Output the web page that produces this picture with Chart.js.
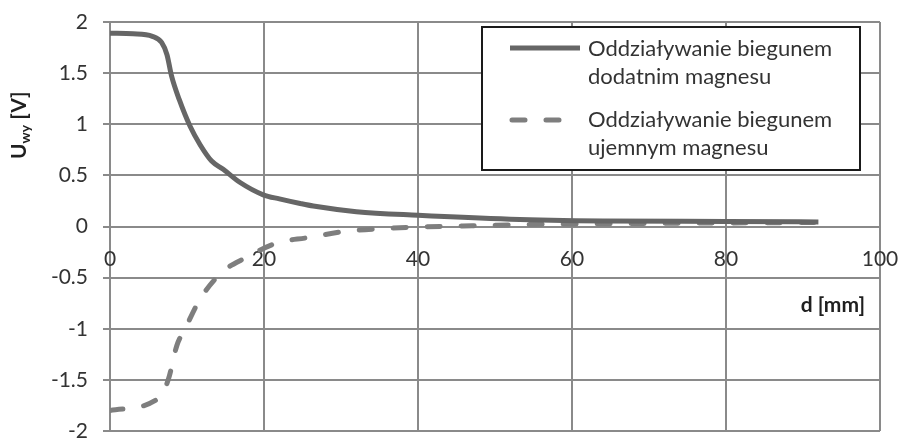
<!DOCTYPE html>
<html>
<head>
<meta charset="utf-8">
<script src="https://cdn.jsdelivr.net/npm/chart.js@4/dist/chart.umd.min.js"></script>
<style>
  html, body { margin: 0; padding: 0; background: #ffffff; }
  #wrap { width: 902px; height: 439px; }
</style>
</head>
<body>
<div id="wrap"><canvas id="c" width="902" height="439"></canvas></div>
<script>
// Output voltage vs. distance from the magnet pole
const distPositive = [0, 3, 5.5, 6.7, 7.4, 8, 9, 10.4, 11.7, 13.2, 14.7, 16.9, 19.9, 22, 24.7, 26.4, 32, 40, 52, 64, 80, 92];
const voltPositive = [1.89, 1.885, 1.86, 1.8, 1.68, 1.47, 1.24, 0.98, 0.8, 0.64, 0.56, 0.43, 0.31, 0.27, 0.225, 0.2, 0.145, 0.11, 0.072, 0.055, 0.05, 0.045];

const distNegative = [0, 6.5, 7.6, 8.7, 9.75, 11.7, 14.5, 17.5, 21.7, 25.6, 30.8, 35.5, 40, 47, 55, 70, 92];
const voltNegative = [-1.8, -1.67, -1.49, -1.16, -1.0, -0.71, -0.45, -0.31, -0.16, -0.11, -0.045, -0.02, -0.005, 0.008, 0.02, 0.03, 0.04];

const xTicks = [0, 20, 40, 60, 80, 100];
const yTicks = [-2, -1.5, -1, -0.5, 0, 0.5, 1, 1.5, 2];

const seriesLabels = [
  ["Oddziaływanie biegunem", "dodatnim magnesu"],
  ["Oddziaływanie biegunem", "ujemnym magnesu"]
];
const xTitle = "d [mm]";
const yTitleMain = "U";
const yTitleSub = "wy";
const yTitleUnit = " [V]";

const FONT = "Lato, 'Open Sans', sans-serif";
const TEXT = "#333333";
const GRID = "#8a8a8a";

const toPoints = (xs, ys) => xs.map((x, i) => ({ x: x, y: ys[i] }));

// Legend box, axis titles
const decor = {
  id: 'decor',
  afterDraw(chart) {
    const ctx = chart.ctx;
    const xs = chart.scales.x, ys = chart.scales.y;
    ctx.save();

    // legend
    const bx = 482, by = 27, bw = 378, bh = 143;
    ctx.fillStyle = '#ffffff';
    ctx.fillRect(bx, by, bw, bh);
    ctx.strokeStyle = '#1a1a1a';
    ctx.lineWidth = 2;
    ctx.strokeRect(bx, by, bw, bh);

    const rows = [{ lineY: 48, base: 56 }, { lineY: 120, base: 127 }];
    ctx.font = '22px ' + FONT;
    ctx.textBaseline = 'alphabetic';
    ctx.textAlign = 'left';
    rows.forEach((r, i) => {
      const ds = chart.data.datasets[i];
      ctx.save();
      ctx.strokeStyle = ds.borderColor;
      ctx.lineWidth = ds.borderWidth;
      ctx.lineCap = ds.borderCapStyle || 'butt';
      ctx.setLineDash(ds.borderDash || []);
      ctx.beginPath();
      ctx.moveTo(ds.borderDash ? 512 : 510, r.lineY);
      ctx.lineTo(580, r.lineY);
      ctx.stroke();
      ctx.restore();
      ctx.fillStyle = TEXT;
      seriesLabels[i].forEach((t, k) => ctx.fillText(t, 588, r.base + k * 28));
    });

    // x-axis title
    ctx.fillStyle = '#1f1f1f';
    ctx.font = 'bold 21px ' + FONT;
    ctx.textAlign = 'right';
    ctx.fillText(xTitle, xs.getPixelForValue(100) - 15, ys.getPixelForValue(-0.84));

    // y-axis title (rotated, with subscript)
    ctx.translate(26, 159);
    ctx.rotate(-Math.PI / 2);
    ctx.textAlign = 'left';
    ctx.font = 'bold 21px ' + FONT;
    ctx.fillText(yTitleMain, 0, 0);
    let off = ctx.measureText(yTitleMain).width;
    ctx.font = 'bold 14px ' + FONT;
    ctx.fillText(yTitleSub, off, 4);
    off += ctx.measureText(yTitleSub).width;
    ctx.font = 'bold 21px ' + FONT;
    ctx.fillText(yTitleUnit, off, 0);
    ctx.restore();
  }
};

new Chart(document.getElementById('c'), {
  type: 'line',
  data: {
    datasets: [
      {
        label: seriesLabels[0].join(' '),
        data: toPoints(distPositive, voltPositive),
        borderColor: '#666666',
        borderWidth: 5,
        pointRadius: 0,
        fill: false,
        cubicInterpolationMode: 'monotone'
      },
      {
        label: seriesLabels[1].join(' '),
        data: toPoints(distNegative, voltNegative),
        borderColor: '#7e7e7e',
        borderWidth: 5,
        borderDash: [13, 21],
        borderCapStyle: 'round',
        pointRadius: 0,
        fill: false,
        cubicInterpolationMode: 'monotone'
      }
    ]
  },
  options: {
    responsive: false,
    devicePixelRatio: 1,
    animation: false,
    layout: { padding: { left: 0, top: 22, right: 22, bottom: 8 } },
    plugins: { legend: { display: false }, tooltip: { enabled: false } },
    scales: {
      x: {
        type: 'linear',
        min: 0, max: 100,
        position: { y: 0 },
        afterBuildTicks(s) { s.ticks = xTicks.map(v => ({ value: v })); },
        afterFit(s) { s.paddingLeft = 0; s.paddingRight = 0; },
        ticks: { font: { size: 21, family: FONT }, color: TEXT, padding: 20, maxRotation: 0 },
        grid: { color: GRID, lineWidth: 2, drawTicks: false },
        border: { display: false }
      },
      y: {
        type: 'linear',
        min: -2, max: 2,
        afterBuildTicks(s) { s.ticks = yTicks.map(v => ({ value: v })); },
        afterFit(s) { s.width = 110; s.paddingTop = 0; s.paddingBottom = 0; },
        ticks: { font: { size: 21, family: FONT }, color: TEXT, padding: 15, callback: v => String(v) },
        grid: { color: GRID, lineWidth: 2, tickLength: 7 },
        border: { display: false }
      }
    }
  },
  plugins: [decor]
});
</script>
</body>
</html>
